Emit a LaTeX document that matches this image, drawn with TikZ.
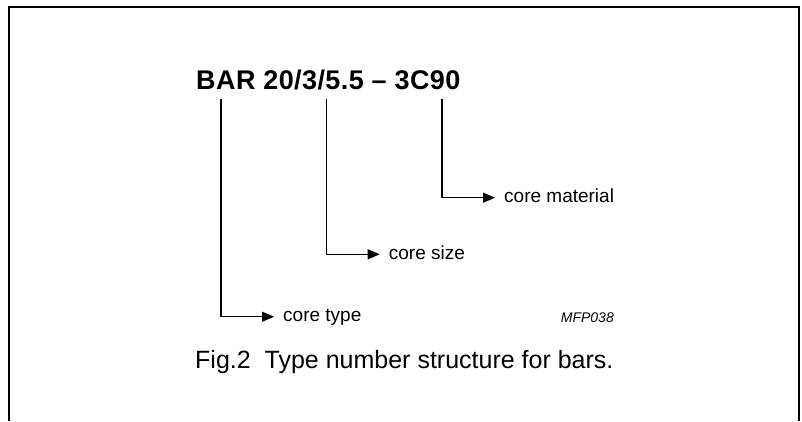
\documentclass[tikz,border=0pt]{standalone}
\usepackage{fontspec}
\setmainfont{Liberation Sans}
\usetikzlibrary{arrows.meta}
\tikzstyle{typeno} = [anchor=base west, inner sep=0pt, font=\fontsize{27}{30}\selectfont\bfseries\addfontfeatures{LetterSpace=1.5}]
\tikzstyle{part} = [anchor=west, inner sep=0pt, text height=10pt, text depth=0pt, font=\fontsize{19}{22}\selectfont]
\tikzstyle{arrow} = [line width=1.3pt, -{Triangle[length=12pt,width=10pt]}, shorten >=9pt]
\tikzstyle{boxline} = [line width=2.8pt]

\begin{document}
\begin{tikzpicture}[x=1pt, y=-1pt]
        \useasboundingbox (0,0) rectangle (802,421);
        \draw[boxline](9,421) -- (9,7) -- (799,7) -- (799,421);

        \node[typeno](name) at (196,89){BAR 20/3/5.5 – 3C90};
        \coordinate (bar) at (221,99);
        \coordinate (size) at (326.7,99);
        \coordinate (grade) at (442,99);

        \node[part](material) at (504,197.7){core material};
        \node[part](coresize) at (388.7,254.3){core size};
        \node[part](coretype) at (283,316.7){core type};
        \node[anchor=base east, inner sep=0pt, font=\fontsize{14}{16}\selectfont\itshape](code) at (614,322.3){MFP038};
        \node[anchor=base west, inner sep=0pt, font=\fontsize{25}{30}\selectfont](caption) at (195,368){Fig.2\ \ Type number structure for bars.};

        \draw [arrow](grade) |- (material);
        \draw [arrow](size) |- (coresize);
        \draw [arrow](bar) |- (coretype);

\end{tikzpicture}
\end{document}
